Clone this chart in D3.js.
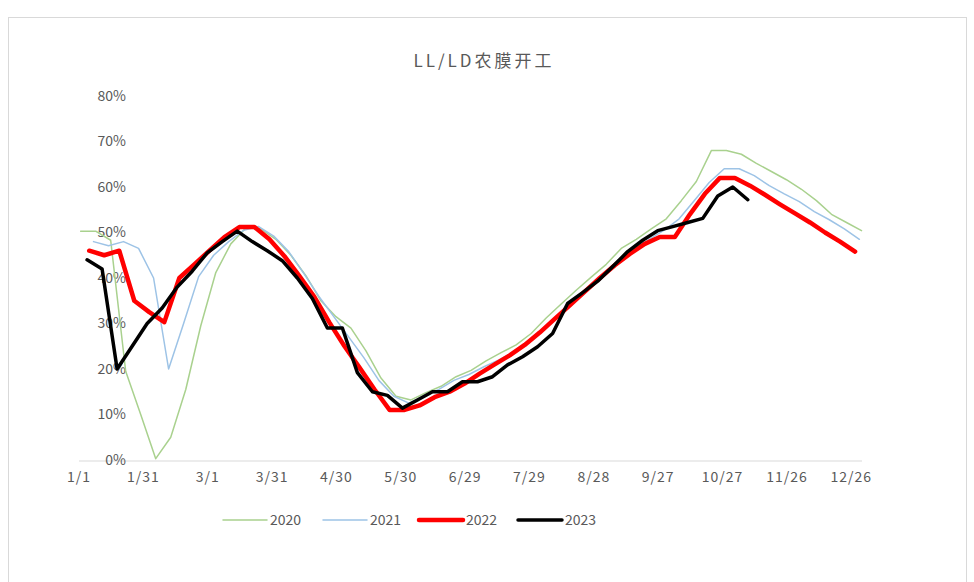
<!DOCTYPE html>
<html>
<head>
<meta charset="utf-8">
<script src="https://cdn.jsdelivr.net/npm/d3@7/dist/d3.min.js"></script>
<style>
  html, body { margin: 0; padding: 0; background: #ffffff; }
  svg { display: block; }
  text { font-family: "Noto Sans CJK SC", "Noto Sans", sans-serif; }
</style>
</head>
<body>
<svg id="chart" width="974" height="582"></svg>
<script>
// ---------------- DATA ----------------
const title = "LL/LD农膜开工";
const seriesNames = ["2020", "2021", "2022", "2023"];
// first weekly observation of each year (mapped to the month/day calendar of the axis)
const startDates = { "2020": "1/2", "2021": "1/8", "2022": "1/6", "2023": "1/5" };
const stepDays = 7;

const values2020 = [50.3, 50.3, 48.3, 19.5, 10, 0.3, 5, 15.5, 29.5, 41.2, 47.5, 51, 50.8, 48.5, 45, 40.5, 35, 31.5, 29, 24, 18, 14, 13.2, 14.8, 16.2, 18.3, 19.7, 21.8, 23.6, 25.3, 27.8, 31.2, 34.3, 37.3, 40.2, 43, 46.5, 48.5, 50.8, 53, 57, 61.2, 68, 68, 67.2, 65.2, 63.4, 61.6, 59.5, 57, 54, 52.2, 50.4];
const values2021 = [48, 47.1, 48, 46.5, 40, 20, 30, 40.3, 45, 48, 50.5, 51.3, 49.2, 45.8, 41, 36, 31.5, 27, 22.5, 17.5, 14, 12.5, 14, 15.5, 17.5, 18.8, 20.5, 22, 23.8, 25.8, 28.8, 31.5, 34.5, 37.5, 40.5, 43.5, 46.3, 48.5, 50.5, 53, 57, 61, 64, 64, 62.5, 60.3, 58.5, 56.8, 54.6, 52.8, 50.8, 48.5];
const values2022 = [46, 45, 46, 35, 32.5, 30.3, 40, 43, 46, 49, 51.2, 51.2, 48.5, 44.8, 40.4, 35.8, 30.2, 25, 20.3, 15.5, 11, 11, 12, 13.8, 15, 16.8, 19, 21, 23, 25.3, 28, 31, 34, 37, 40, 42.8, 45.3, 47.5, 49, 49, 54, 58.5, 62, 62, 60.3, 58.3, 56.2, 54.2, 52.2, 50, 48, 45.8];
const values2023 = [44, 42, 20, 25, 30, 33.4, 38, 41.5, 45.5, 48, 50.3, 48, 46, 43.8, 40, 35.5, 29, 29, 19.2, 15, 14.2, 11.4, 13.2, 15, 15, 17.2, 17.2, 18.3, 20.9, 22.7, 24.9, 27.8, 34.4, 36.8, 39.3, 42.5, 45.8, 48.3, 50.4, 51.3, 52.2, 53.1, 58, 60, 57.2];

const xTickLabels = ["1/1", "1/31", "3/1", "3/31", "4/30", "5/30", "6/29", "7/29", "8/28", "9/27", "10/27", "11/26", "12/26"];
const yTickValues = [0, 10, 20, 30, 40, 50, 60, 70, 80];

const seriesValues = { "2020": values2020, "2021": values2021, "2022": values2022, "2023": values2023 };

// ---------------- STYLE ----------------
const colors = { "2020": "#a9d18e", "2021": "#9dc3e6", "2022": "#ff0000", "2023": "#000000" };
const widths = { "2020": 1.5, "2021": 1.5, "2022": 4.5, "2023": 3.5 };
const textColor = "#595959";

// ---------------- SCALES ----------------
const axisYear = 2020;
const parseMD = s => { const [m, d] = s.split("/").map(Number); return new Date(axisYear, m - 1, d); };

const x = d3.scaleTime()
  .domain([new Date(axisYear, 0, 1), new Date(axisYear, 11, 31)])
  .range([78.5, 861.5]);
const y = d3.scaleLinear().domain([0, 80]).range([460, 96]);

const svg = d3.select("#chart");

// frame
svg.append("rect")
  .attr("x", 8.5).attr("y", 17.5)
  .attr("width", 958).attr("height", 570)
  .attr("fill", "none").attr("stroke", "#d9d9d9").attr("stroke-width", 1);

// title
svg.append("text")
  .attr("x", 484).attr("y", 67)
  .attr("text-anchor", "middle")
  .attr("fill", textColor)
  .attr("font-size", 17)
  .attr("letter-spacing", "3px")
  .text(title);

// x axis
const xAxis = d3.axisBottom(x)
  .tickValues(xTickLabels.map(parseMD))
  .tickFormat(d3.timeFormat("%-m/%-d"))
  .tickSize(0)
  .tickPadding(12);
const gx = svg.append("g").attr("transform", "translate(0,460.5)").call(xAxis);
gx.select(".domain").attr("stroke", "#d9d9d9").attr("stroke-width", 1.2);
gx.selectAll("text").attr("fill", textColor).attr("font-size", 14)
  .attr("font-family", "\"Noto Sans CJK SC\", sans-serif").attr("letter-spacing", "1px");

// y axis (labels only)
const yAxis = d3.axisLeft(y)
  .tickValues(yTickValues)
  .tickFormat(d => d + "%")
  .tickSize(0)
  .tickPadding(0);
const gy = svg.append("g").attr("transform", "translate(126,0)").call(yAxis);
gy.select(".domain").remove();
gy.selectAll("text").attr("fill", textColor).attr("font-size", 14)
  .attr("font-family", "\"Noto Sans CJK SC\", sans-serif");

// lines
const line = d3.line().x(d => x(d.date)).y(d => y(d.value));
seriesNames.forEach(name => {
  const start = parseMD(startDates[name]);
  const data = seriesValues[name].map((v, i) => ({ date: d3.timeDay.offset(start, i * stepDays), value: v }));
  svg.append("path")
    .datum(data)
    .attr("fill", "none")
    .attr("stroke", colors[name])
    .attr("stroke-width", widths[name])
    .attr("stroke-linejoin", "round")
    .attr("stroke-linecap", "round")
    .attr("d", line);
});

// legend
const legendX = [223, 323, 419, 518];
const legend = svg.append("g");
seriesNames.forEach((name, i) => {
  const g = legend.append("g").attr("transform", `translate(${legendX[i]},520)`);
  g.append("line").attr("x1", 0).attr("x2", 44).attr("y1", 0).attr("y2", 0)
    .attr("stroke", colors[name]).attr("stroke-width", widths[name])
    .attr("stroke-linecap", "round");
  g.append("text").attr("x", 47).attr("y", 5)
    .attr("fill", textColor).attr("font-size", 14).text(name);
});
</script>
</body>
</html>
